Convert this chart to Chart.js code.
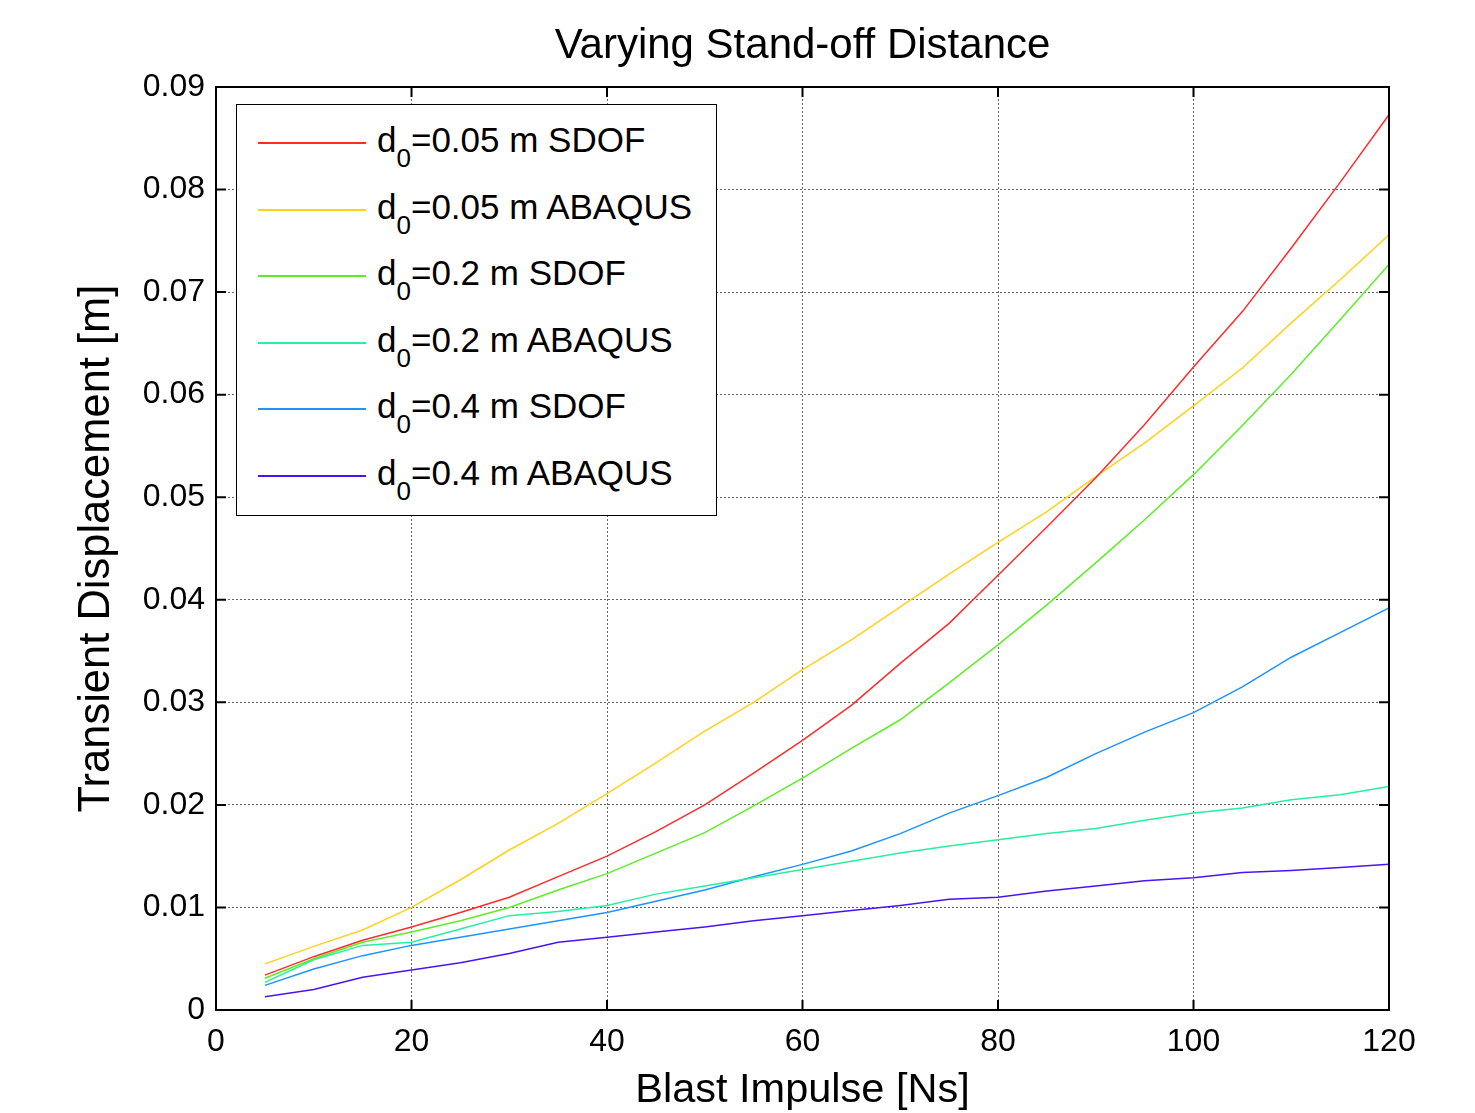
<!DOCTYPE html>
<html>
<head>
<meta charset="utf-8">
<script src="https://cdn.jsdelivr.net/npm/chart.js@4.4.1/dist/chart.umd.min.js"></script>
<style>
  html, body { margin: 0; padding: 0; background: #fff; }
  #wrap { position: relative; width: 1475px; height: 1113px; font-family: "Liberation Sans", Arial, sans-serif; }
  #legend { position: absolute; background: #fff; border: 1.5px solid #000; box-sizing: border-box; }
  .row { position: absolute; left: 0; width: 100%; height: 0; }
  .row .sample { position: absolute; left: 21px; width: 108px; top: -1px; height: 2px; }
  .row .txt { position: absolute; left: 140px; top: -21px; font-size: 35px; line-height: 35px; white-space: nowrap; color: #000; }
  .row sub { font-size: 26px; line-height: 0; vertical-align: baseline; position: relative; top: 15px; }
</style>
</head>
<body>
<div id="wrap">
  <canvas id="chart" width="1475" height="1113"></canvas>
  <div id="legend"></div>
</div>
<script>
// blast impulse [Ns]
const impulse = [5, 10, 15, 20, 25, 30, 35, 40, 45, 50, 55, 60, 65, 70, 75, 80, 85, 90, 95, 100, 105, 110, 115, 120];

// transient displacement [m]
const sdof005 = [0.0034, 0.0052, 0.0068, 0.0081, 0.0095, 0.0110, 0.0130, 0.0150, 0.0174, 0.0200, 0.0231, 0.0263, 0.0297, 0.0338, 0.0377, 0.0424, 0.0471, 0.0519, 0.0571, 0.0627, 0.0681, 0.0743, 0.0807, 0.0873];
const abaqus005 = [0.0045, 0.0062, 0.0078, 0.0100, 0.0127, 0.0156, 0.0182, 0.0211, 0.0241, 0.0272, 0.0300, 0.0332, 0.0361, 0.0393, 0.0425, 0.0456, 0.0486, 0.0520, 0.0553, 0.0589, 0.0626, 0.0670, 0.0712, 0.0756];
const sdof02 = [0.0031, 0.0050, 0.0066, 0.0076, 0.0087, 0.0100, 0.0117, 0.0133, 0.0153, 0.0173, 0.0199, 0.0226, 0.0255, 0.0283, 0.0319, 0.0356, 0.0395, 0.0436, 0.0478, 0.0522, 0.0570, 0.0620, 0.0673, 0.0727];
const abaqus02 = [0.0027, 0.0049, 0.0063, 0.0066, 0.0079, 0.0092, 0.0096, 0.0102, 0.0113, 0.0121, 0.0129, 0.0137, 0.0145, 0.0153, 0.0160, 0.0166, 0.0172, 0.0177, 0.0185, 0.0192, 0.0197, 0.0205, 0.0210, 0.0218];
const sdof04 = [0.0024, 0.0040, 0.0053, 0.0063, 0.0071, 0.0079, 0.0087, 0.0095, 0.0106, 0.0117, 0.0130, 0.0142, 0.0155, 0.0172, 0.0192, 0.0209, 0.0227, 0.0250, 0.0271, 0.0290, 0.0315, 0.0344, 0.0368, 0.0392];
const abaqus04 = [0.0013, 0.0020, 0.0032, 0.0039, 0.0046, 0.0055, 0.0066, 0.0071, 0.0076, 0.0081, 0.0087, 0.0092, 0.0097, 0.0102, 0.0108, 0.0110, 0.0116, 0.0121, 0.0126, 0.0129, 0.0134, 0.0136, 0.0139, 0.0142];

const seriesNames = ['0.05 m SDOF', '0.05 m ABAQUS', '0.2 m SDOF', '0.2 m ABAQUS', '0.4 m SDOF', '0.4 m ABAQUS'];
const seriesData = [sdof005, abaqus005, sdof02, abaqus02, sdof04, abaqus04];
const seriesColors = ['#ff2b2b', '#ffd21a', '#5ced25', '#25f0a0', '#1e93ff', '#4a14f2'];

const xTicks = [0, 20, 40, 60, 80, 100, 120];
const yTicks = [0, 0.01, 0.02, 0.03, 0.04, 0.05, 0.06, 0.07, 0.08, 0.09];
const yTickLabels = ['0', '0.01', '0.02', '0.03', '0.04', '0.05', '0.06', '0.07', '0.08', '0.09'];

const FONT = '"Liberation Sans", Arial, sans-serif';

// box round the plot and small inward ticks, like matlab
const boxPlugin = {
  id: 'boxTicks',
  afterDraw(chart) {
    const { ctx, chartArea: a, scales } = chart;
    ctx.save();
    ctx.strokeStyle = '#000';
    ctx.lineWidth = 2;
    ctx.strokeRect(a.left, a.top, a.right - a.left, a.bottom - a.top);
    ctx.beginPath();
    const len = 10;
    xTicks.forEach(v => {
      const px = scales.x.getPixelForValue(v);
      ctx.moveTo(px, a.bottom); ctx.lineTo(px, a.bottom - len);
      ctx.moveTo(px, a.top); ctx.lineTo(px, a.top + len);
    });
    yTicks.forEach(v => {
      const py = scales.y.getPixelForValue(v);
      ctx.moveTo(a.left, py); ctx.lineTo(a.left + len, py);
      ctx.moveTo(a.right, py); ctx.lineTo(a.right - len, py);
    });
    ctx.stroke();
    ctx.restore();
  }
};

const datasets = seriesData.map((vals, i) => ({
  label: 'd0=' + seriesNames[i],
  data: vals.map((v, j) => ({ x: impulse[j], y: v })),
  borderColor: seriesColors[i],
  backgroundColor: seriesColors[i],
  borderWidth: 1.5,
  pointRadius: 0,
  tension: 0,
  fill: false
}));

const chart = new Chart(document.getElementById('chart'), {
  type: 'line',
  data: { datasets },
  options: {
    responsive: false,
    animation: false,
    layout: { autoPadding: false, padding: { left: 0, right: 86, top: 0, bottom: 0 } },
    plugins: {
      legend: { display: false },
      tooltip: { enabled: false },
      title: {
        display: true,
        fullSize: false,
        text: 'Varying Stand-off Distance',
        color: '#000',
        font: { family: FONT, size: 42, weight: 'normal', lineHeight: 1.2 },
        padding: { top: 21, bottom: 15.6 }
      }
    },
    scales: {
      x: {
        type: 'linear',
        min: 0, max: 120,
        afterBuildTicks: s => { s.ticks = xTicks.map(v => ({ value: v })); },
        afterFit: s => { s.height = 103; },
        ticks: { color: '#000', padding: 13, font: { family: FONT, size: 32 }, maxRotation: 0 },
        grid: { color: 'rgba(0,0,0,0.6)', lineWidth: 1, drawTicks: false },
        border: { display: false, dash: [2, 2] },
        title: {
          display: true, text: 'Blast Impulse [Ns]', color: '#000',
          font: { family: FONT, size: 41.5, lineHeight: 1.1 }, padding: { top: 0, bottom: 0 }
        }
      },
      y: {
        min: 0, max: 0.09,
        afterBuildTicks: s => { s.ticks = yTicks.map(v => ({ value: v })); },
        afterFit: s => { s.width = 216; },
        ticks: {
          color: '#000', padding: 11, font: { family: FONT, size: 32 },
          callback: (v) => yTickLabels[yTicks.findIndex(t => Math.abs(t - v) < 1e-9)]
        },
        grid: { color: 'rgba(0,0,0,0.6)', lineWidth: 1, drawTicks: false },
        border: { display: false, dash: [2, 2] },
        title: {
          display: true, text: 'Transient Displacement [m]', color: '#000',
          font: { family: FONT, size: 43.5, lineHeight: 1.1 }, padding: { top: 73, bottom: 0 }
        }
      }
    }
  },
  plugins: [boxPlugin]
});

// legend as html so the subscript stays real text
const a = chart.chartArea;
const legend = document.getElementById('legend');
legend.style.left = (a.left + 20) + 'px';
legend.style.top = (a.top + 17) + 'px';
legend.style.width = '481px';
legend.style.height = '412px';
seriesNames.forEach((name, i) => {
  const row = document.createElement('div');
  row.className = 'row';
  row.style.top = Math.round(38 + 66.5 * i) + 'px';
  row.innerHTML = '<div class="sample" style="background:' + seriesColors[i] + '"></div>' +
    '<div class="txt">d<sub>0</sub>=' + name + '</div>';
  legend.appendChild(row);
});
</script>
</body>
</html>
